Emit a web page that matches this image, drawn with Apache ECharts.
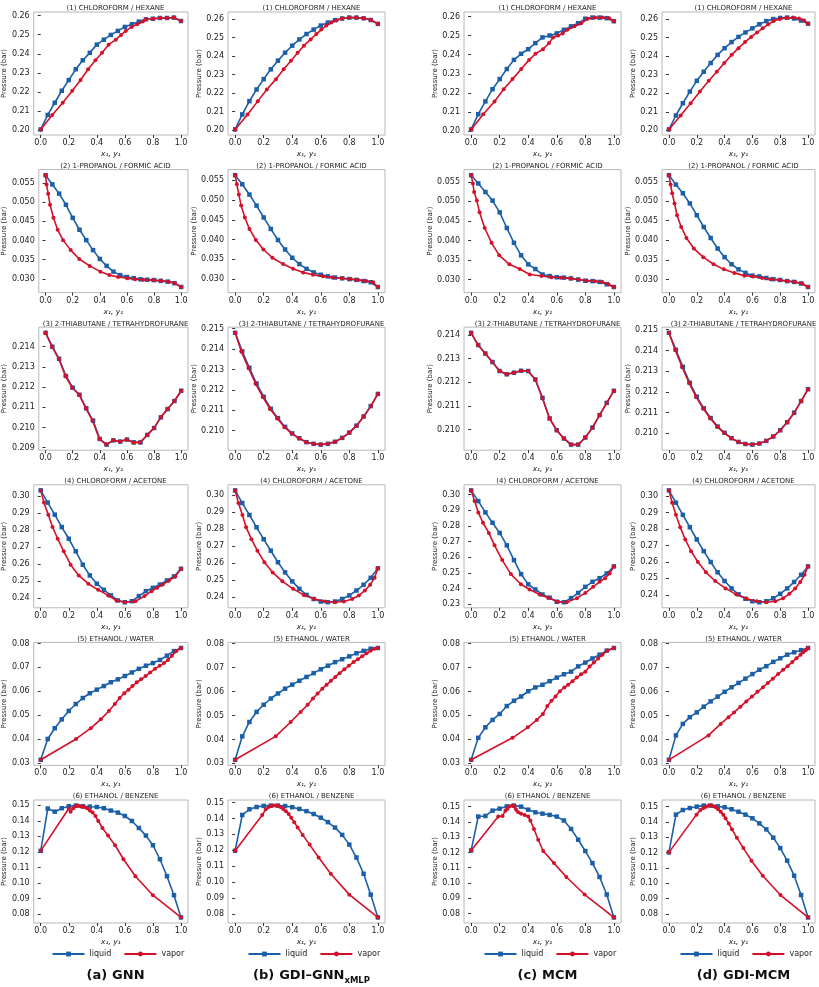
<!DOCTYPE html>
<html><head><meta charset="utf-8">
<script src="https://cdn.jsdelivr.net/npm/echarts@6/dist/echarts.min.js"></script>
<style>html,body{margin:0;padding:0;background:#fff}#c{width:819px;height:987px}</style>
</head><body><div id="c"></div>
<script>
// ---------- data ----------
const X_LIQ = [0,0.05,0.1,0.15,0.2,0.25,0.3,0.35,0.4,0.45,0.5,0.55,0.6,0.65,0.7,0.75,0.8,0.85,0.9,0.95,1.0];
const ROW_TITLES = ['(1) CHLOROFORM / HEXANE','(2) 1-PROPANOL / FORMIC ACID','(3) 2-THIABUTANE / TETRAHYDROFURANE','(4) CHLOROFORM / ACETONE','(5) ETHANOL / WATER','(6) ETHANOL / BENZENE'];
const Y_TICK_STEP = [0.01,0.005,0.001,0.01,0.01,0.01];
const Y_TICK_DEC = [2,3,3,2,2,2];
const X_TICKS = [0,0.2,0.4,0.6,0.8,1.0];
const SERIES_NAMES = ['liquid','vapor'];

const P_1A = [0.2003,0.2079,0.2143,0.2206,0.2262,0.2319,0.2366,0.2405,0.2448,0.2474,0.2499,0.2520,0.2541,0.2555,0.2569,0.2581,0.2584,0.2588,0.2588,0.2590,0.2572];
const Y_1A = [0,0.082,0.157,0.225,0.284,0.338,0.390,0.437,0.484,0.535,0.573,0.606,0.648,0.688,0.728,0.751,0.805,0.852,0.899,0.946,1.0];
const P_1B = [0.2004,0.2085,0.2157,0.2220,0.2276,0.2329,0.2376,0.2419,0.2457,0.2491,0.2520,0.2544,0.2566,0.2582,0.2595,0.2604,0.2609,0.2609,0.2605,0.2596,0.2575];
const Y_1B = [0,0.087,0.159,0.222,0.286,0.340,0.391,0.438,0.482,0.529,0.569,0.604,0.639,0.674,0.710,0.749,0.796,0.850,0.902,0.953,1.0];
const P_1C = [0.2008,0.2088,0.2155,0.2219,0.2272,0.2325,0.2373,0.2405,0.2429,0.2461,0.2491,0.2501,0.2512,0.2531,0.2549,0.2565,0.2589,0.2595,0.2595,0.2592,0.2576];
const Y_1C = [0,0.085,0.164,0.228,0.290,0.351,0.406,0.451,0.503,0.546,0.574,0.610,0.641,0.674,0.724,0.771,0.817,0.867,0.919,0.967,1.0];
const P_1D = [0.2005,0.2080,0.2146,0.2209,0.2267,0.2316,0.2363,0.2407,0.2443,0.2476,0.2504,0.2528,0.2550,0.2572,0.2589,0.2600,0.2606,0.2608,0.2603,0.2592,0.2575];
const Y_1D = [0,0.084,0.156,0.223,0.286,0.344,0.398,0.451,0.500,0.547,0.591,0.633,0.674,0.714,0.753,0.795,0.842,0.891,0.935,0.972,1.0];

const P_2A = [0.0570,0.0546,0.0522,0.0493,0.0459,0.0428,0.0401,0.0375,0.0352,0.0334,0.0319,0.0310,0.0305,0.0302,0.0299,0.0298,0.0297,0.0295,0.0293,0.0289,0.0279];
const Y_2A = [0,0.007,0.019,0.033,0.058,0.089,0.129,0.185,0.248,0.325,0.404,0.470,0.535,0.603,0.661,0.720,0.790,0.848,0.907,0.953,1.0];
const P_2B = [0.0563,0.0540,0.0514,0.0486,0.0456,0.0427,0.0399,0.0375,0.0354,0.0338,0.0326,0.0317,0.0311,0.0307,0.0304,0.0302,0.0300,0.0298,0.0295,0.0292,0.0280];
const Y_2B = [0,0.012,0.026,0.042,0.068,0.100,0.145,0.198,0.261,0.336,0.406,0.476,0.545,0.615,0.681,0.746,0.809,0.862,0.918,0.967,1.0];
const P_2C = [0.0567,0.0546,0.0524,0.0502,0.0472,0.0432,0.0394,0.0362,0.0339,0.0327,0.0313,0.0309,0.0306,0.0305,0.0303,0.0300,0.0297,0.0296,0.0294,0.0288,0.0281];
const Y_2C = [0,0.012,0.021,0.040,0.059,0.095,0.143,0.197,0.268,0.340,0.411,0.492,0.563,0.627,0.694,0.753,0.812,0.867,0.919,0.962,1.0];
const P_2D = [0.0566,0.0542,0.0520,0.0494,0.0464,0.0434,0.0406,0.0379,0.0357,0.0339,0.0326,0.0317,0.0310,0.0308,0.0304,0.0301,0.0299,0.0296,0.0294,0.0290,0.0281];
const Y_2D = [0,0.012,0.023,0.040,0.058,0.088,0.126,0.179,0.247,0.321,0.395,0.470,0.542,0.605,0.670,0.730,0.791,0.849,0.907,0.958,1.0];

const P_3A = [0.21469,0.21400,0.21340,0.21255,0.21197,0.21162,0.21095,0.21034,0.20943,0.20915,0.20936,0.20930,0.20940,0.20926,0.20926,0.20963,0.20997,0.21050,0.21091,0.21131,0.21182];
const Y_3A = [0,0.047,0.097,0.146,0.196,0.247,0.297,0.346,0.396,0.447,0.497,0.548,0.598,0.648,0.698,0.749,0.799,0.849,0.899,0.950,1.0];
const P_3B = [0.21480,0.21389,0.21308,0.21231,0.21166,0.21107,0.21061,0.21018,0.20986,0.20962,0.20943,0.20935,0.20931,0.20935,0.20945,0.20964,0.20990,0.21024,0.21069,0.21120,0.21180];
const Y_3B = [0,0.043,0.093,0.143,0.193,0.244,0.294,0.345,0.395,0.446,0.497,0.547,0.598,0.648,0.699,0.750,0.800,0.851,0.901,0.951,1.0];
const P_3C = [0.21410,0.21358,0.21322,0.21286,0.21248,0.21234,0.21241,0.21249,0.21248,0.21212,0.21134,0.21047,0.20997,0.20962,0.20936,0.20936,0.20966,0.21008,0.21061,0.21113,0.21164];
const Y_3C = [0,0.048,0.098,0.148,0.198,0.248,0.298,0.348,0.398,0.449,0.499,0.549,0.599,0.649,0.699,0.750,0.800,0.850,0.900,0.950,1.0];
const P_3D = [0.21485,0.21403,0.21321,0.21244,0.21177,0.21121,0.21074,0.21033,0.21003,0.20977,0.20959,0.20949,0.20946,0.20951,0.20964,0.20985,0.21015,0.21054,0.21100,0.21156,0.21213];
const Y_3D = [0,0.044,0.094,0.144,0.194,0.245,0.295,0.346,0.396,0.447,0.497,0.548,0.598,0.649,0.699,0.750,0.800,0.850,0.901,0.951,1.0];

const P_4A = [0.3033,0.2961,0.2890,0.2817,0.2748,0.2674,0.2595,0.2532,0.2483,0.2447,0.2414,0.2384,0.2374,0.2380,0.2410,0.2439,0.2459,0.2478,0.2502,0.2526,0.2571];
const Y_4A = [0,0.023,0.054,0.084,0.121,0.164,0.213,0.271,0.339,0.409,0.481,0.540,0.600,0.675,0.740,0.790,0.830,0.870,0.915,0.960,1.0];
const P_4B = [0.3029,0.2954,0.2884,0.2811,0.2741,0.2673,0.2605,0.2545,0.2492,0.2448,0.2412,0.2388,0.2373,0.2369,0.2373,0.2388,0.2409,0.2438,0.2472,0.2513,0.2569];
const Y_4B = [0,0.023,0.051,0.077,0.114,0.156,0.205,0.263,0.331,0.406,0.480,0.555,0.629,0.697,0.762,0.820,0.867,0.909,0.946,0.977,1.0];
const P_4C = [0.3026,0.2958,0.2886,0.2820,0.2755,0.2676,0.2582,0.2493,0.2428,0.2395,0.2363,0.2343,0.2317,0.2314,0.2340,0.2373,0.2412,0.2444,0.2467,0.2497,0.2542];
const Y_4C = [0,0.024,0.050,0.083,0.124,0.164,0.218,0.278,0.349,0.409,0.480,0.539,0.610,0.670,0.741,0.800,0.855,0.900,0.938,0.971,1.0];
const P_4D = [0.3036,0.2961,0.2887,0.2812,0.2737,0.2666,0.2600,0.2537,0.2484,0.2439,0.2403,0.2376,0.2361,0.2355,0.2361,0.2379,0.2406,0.2439,0.2478,0.2522,0.2573];
const Y_4D = [0,0.023,0.050,0.081,0.117,0.159,0.208,0.266,0.333,0.407,0.483,0.558,0.632,0.700,0.764,0.820,0.866,0.907,0.944,0.975,1.0];

const P_5A = [0.0314,0.0401,0.0446,0.0483,0.0518,0.0547,0.0572,0.0592,0.0607,0.0622,0.0638,0.0650,0.0664,0.0679,0.0694,0.0707,0.0718,0.0731,0.0749,0.0768,0.0781];
const Y_5A = [0,0.252,0.357,0.428,0.486,0.528,0.563,0.596,0.626,0.654,0.685,0.715,0.748,0.780,0.815,0.848,0.879,0.907,0.935,0.967,1.0];
const P_5B = [0.0315,0.0413,0.0473,0.0515,0.0545,0.0571,0.0592,0.0612,0.0629,0.0645,0.0661,0.0677,0.0693,0.0708,0.0723,0.0735,0.0747,0.0760,0.0770,0.0779,0.0782];
const Y_5B = [0,0.284,0.389,0.459,0.508,0.545,0.578,0.611,0.641,0.671,0.702,0.732,0.765,0.797,0.830,0.860,0.890,0.921,0.949,0.977,1.0];
const P_5C = [0.0314,0.0406,0.0450,0.0481,0.0506,0.0539,0.0561,0.0579,0.0601,0.0617,0.0628,0.0643,0.0658,0.0672,0.0683,0.0705,0.0721,0.0738,0.0754,0.0771,0.0782];
const Y_5C = [0,0.290,0.397,0.460,0.503,0.534,0.563,0.591,0.622,0.653,0.680,0.710,0.740,0.770,0.800,0.830,0.860,0.890,0.920,0.955,1.0];
const P_5D = [0.0315,0.0417,0.0465,0.0493,0.0513,0.0537,0.0559,0.0579,0.0599,0.0618,0.0636,0.0654,0.0673,0.0691,0.0706,0.0724,0.0739,0.0754,0.0764,0.0773,0.0782];
const Y_5D = [0,0.284,0.372,0.428,0.468,0.514,0.556,0.597,0.636,0.676,0.711,0.747,0.785,0.821,0.853,0.887,0.917,0.946,0.965,0.983,1.0];

const P_6A = [0.1207,0.1479,0.1459,0.1481,0.1494,0.1498,0.1494,0.1491,0.1489,0.1481,0.1466,0.1453,0.1431,0.1399,0.1354,0.1305,0.1243,0.1153,0.1044,0.0922,0.0779];
const Y_6A = [0,0.200,0.213,0.231,0.250,0.265,0.280,0.295,0.310,0.330,0.350,0.370,0.390,0.410,0.440,0.480,0.530,0.590,0.675,0.800,1.0];
const P_6B = [0.1198,0.1422,0.1458,0.1472,0.1479,0.1481,0.1481,0.1478,0.1471,0.1460,0.1446,0.1428,0.1405,0.1377,0.1343,0.1297,0.1236,0.1155,0.1053,0.0922,0.0779];
const Y_6B = [0,0.190,0.215,0.235,0.252,0.270,0.287,0.303,0.320,0.337,0.356,0.375,0.393,0.414,0.438,0.473,0.522,0.585,0.670,0.800,1.0];
const P_6C = [0.1213,0.1435,0.1439,0.1474,0.1487,0.1502,0.1507,0.1500,0.1480,0.1463,0.1454,0.1446,0.1435,0.1409,0.1354,0.1283,0.1209,0.1130,0.1039,0.0924,0.0774];
const Y_6C = [0,0.190,0.220,0.240,0.255,0.270,0.290,0.305,0.315,0.330,0.350,0.375,0.400,0.415,0.440,0.470,0.505,0.580,0.667,0.795,1.0];
const P_6D = [0.1202,0.1448,0.1478,0.1491,0.1500,0.1507,0.1507,0.1502,0.1496,0.1483,0.1467,0.1448,0.1424,0.1391,0.1352,0.1298,0.1230,0.1148,0.1050,0.0924,0.0778];
const Y_6D = [0,0.198,0.226,0.249,0.267,0.286,0.302,0.321,0.337,0.353,0.372,0.391,0.407,0.430,0.453,0.488,0.535,0.593,0.674,0.802,1.0];

const PANELS = [
  [[P_1A,Y_1A],[P_1B,Y_1B],[P_1C,Y_1C],[P_1D,Y_1D]],
  [[P_2A,Y_2A],[P_2B,Y_2B],[P_2C,Y_2C],[P_2D,Y_2D]],
  [[P_3A,Y_3A],[P_3B,Y_3B],[P_3C,Y_3C],[P_3D,Y_3D]],
  [[P_4A,Y_4A],[P_4B,Y_4B],[P_4C,Y_4C],[P_4D,Y_4D]],
  [[P_5A,Y_5A],[P_5B,Y_5B],[P_5C,Y_5C],[P_5D,Y_5D]],
  [[P_6A,Y_6A],[P_6B,Y_6B],[P_6C,Y_6C],[P_6D,Y_6D]]
];

// ---------- layout / style ----------
const COL_LEFT = [33,228,464,662];
const COL_W = [155,157,157,153];
const ROW_TOP0 = 12, ROW_STEP = 157.6, ROW_H = 123;
const BLUE = '#1b5fa8', RED = '#d4112a';
const TXT = '#222';

const chart = echarts.init(document.getElementById('c'), null, {renderer:'canvas'});
const grid = [], xAxis = [], yAxis = [], series = [], title = [], legend = [];

function ticksFor(lo, hi, step, dec) {
  const out = [];
  const start = Math.ceil(lo / step - 1e-9);
  for (let k = start; k * step <= hi + 1e-12; k++) out.push(+(k * step).toFixed(dec));
  return out;
}

let idx = 0;
for (let r = 0; r < 6; r++) {
  for (let c = 0; c < 4; c++) {
    const [P, Y] = PANELS[r][c];
    const top = ROW_TOP0 + ROW_STEP * r;
    grid.push({left: COL_LEFT[c], top: top, width: COL_W[c], height: ROW_H,
      show: true, borderColor: '#b8b8b8', borderWidth: 1, backgroundColor: 'transparent'});
    const lo = Math.min(...P), hi = Math.max(...P), span = hi - lo;
    const ymin = lo - 0.05 * span, ymax = hi + 0.05 * span;
    const yt = ticksFor(ymin, ymax, Y_TICK_STEP[r], Y_TICK_DEC[r]);
    const dec = Y_TICK_DEC[r];
    xAxis.push({type: 'value', gridIndex: idx, min: -0.05, max: 1.05,
      axisLine: {show: false},
      axisTick: {show: true, length: 3, lineStyle: {color: '#333'}, customValues: X_TICKS},
      axisLabel: {customValues: X_TICKS, formatter: v => v.toFixed(1), fontSize: 8, color: TXT, margin: 4, fontFamily: 'DejaVu Sans'},
      splitLine: {show: false},
      name: 'x\u2081, y\u2081', nameLocation: 'middle', nameGap: 15,
      nameTextStyle: {fontSize: 7.5, fontStyle: 'italic', color: TXT, fontFamily: 'DejaVu Sans'}});
    yAxis.push({type: 'value', gridIndex: idx, min: ymin, max: ymax,
      axisLine: {show: false},
      axisTick: {show: true, length: 3, lineStyle: {color: '#333'}, customValues: yt},
      axisLabel: {customValues: yt, formatter: v => v.toFixed(dec), fontSize: 8, color: TXT, margin: 4, fontFamily: 'DejaVu Sans'},
      splitLine: {show: false},
      name: 'Pressure (bar)', nameLocation: 'middle', nameGap: dec === 3 ? 27 : 22,
      nameTextStyle: {fontSize: 7, color: TXT, fontFamily: 'DejaVu Sans'}});
    series.push({type: 'line', name: SERIES_NAMES[0], xAxisIndex: idx, yAxisIndex: idx,
      data: X_LIQ.map((x, k) => [x, P[k]]), symbol: 'rect', symbolSize: 4.5,
      lineStyle: {width: 1.6, color: BLUE}, itemStyle: {color: BLUE}, silent: true, z: 2});
    series.push({type: 'line', name: SERIES_NAMES[1], xAxisIndex: idx, yAxisIndex: idx,
      data: Y.map((y, k) => [y, P[k]]), symbol: 'circle', symbolSize: 4,
      lineStyle: {width: 1.6, color: RED}, itemStyle: {color: RED}, silent: true, z: 3});
    title.push({text: ROW_TITLES[r], left: COL_LEFT[c] + COL_W[c] / 2, top: top - 12, textAlign: 'center',
      textStyle: {fontSize: 7, fontWeight: 'normal', color: TXT, fontFamily: 'DejaVu Sans'}});
    idx++;
  }
}

const CAPTIONS = [
  '{b|(a)} {n|GNN}',
  '{b|(b)} {n|GDI\u2013GNN}{s|xMLP}',
  '{b|(c)} {n|MCM}',
  '{b|(d)} {n|GDI-MCM}'
];
for (let c = 0; c < 4; c++) {
  const cx = COL_LEFT[c] + COL_W[c] / 2;
  legend.push({data: SERIES_NAMES, left: cx - 64, top: 945, itemWidth: 32, itemHeight: 6, itemGap: 12,
    textStyle: {fontSize: 8, color: TXT, fontFamily: 'DejaVu Sans'}, selectedMode: false});
  title.push({text: CAPTIONS[c], left: cx, top: 962, textAlign: 'center',
    textStyle: {rich: {
      b: {fontSize: 13, fontWeight: 'bold', color: '#111', fontFamily: 'DejaVu Sans', lineHeight: 18},
      n: {fontSize: 13, color: '#111', fontFamily: 'DejaVu Sans', lineHeight: 18},
      s: {fontSize: 8.5, fontWeight: 'bold', color: '#111', fontFamily: 'DejaVu Sans', verticalAlign: 'bottom', lineHeight: 9}
    }}});
}

chart.setOption({animation: false, backgroundColor: '#fff', grid, xAxis, yAxis, series, title, legend});
</script></body></html>
